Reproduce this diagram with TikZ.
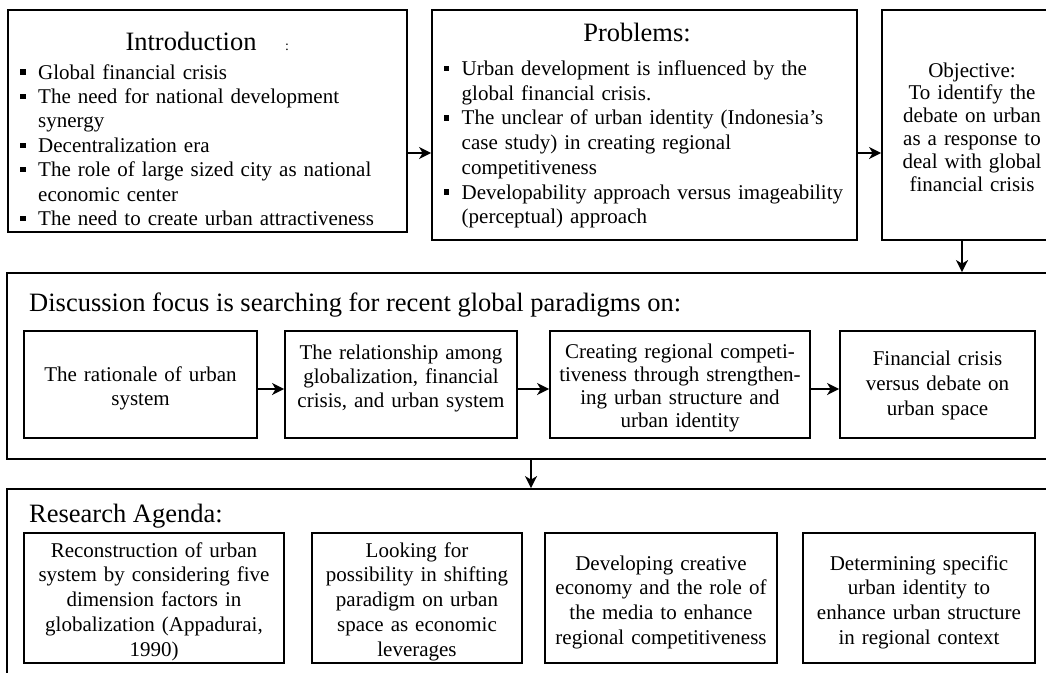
\documentclass[tikz,border=0pt]{standalone}
\usepackage{fontspec}
\setmainfont{Liberation Serif}
\usetikzlibrary{arrows.meta,fit}

% square list bullet followed by the item text
\newcommand{\sqbul}{\makebox[18pt][l]{\raisebox{4.2pt}{\rule{5.5pt}{5.5pt}}}}
\newcommand{\cont}{\hspace*{18pt}}

\begin{document}
\begin{tikzpicture}[x=1pt,y=-1pt,
  frame/.style={draw, line width=1.8pt, inner sep=0pt},
  flow/.style={line width=2.6pt, -{Stealth[length=12pt,width=12pt,inset=3.5pt]}},
  heading/.style={anchor=base west, inner sep=0pt, font=\fontsize{26.5}{30}\selectfont},
  listtext/.style={anchor=base west, inner sep=0pt, text width=420pt, align=left},
  celltext/.style={anchor=base, inner sep=0pt, text width=300pt, align=center},
]
\useasboundingbox (0,0) rectangle (1046,672);

% top row
\node[frame, fit={(8,10) (407,232)}] (intro) {};
\node[frame, fit={(432,10) (857,240)}] (probs) {};
\node[frame, fit={(882,10) (1072,240)}] (obj) {};

\node[anchor=base, inner sep=0pt, font=\fontsize{26.5}{30}\selectfont] (intro-title) at (191,50) {Introduction};
\node[anchor=base, inner sep=0pt, font=\fontsize{14}{16}\selectfont] (intro-colon) at (287,50) {:};
\node[listtext, font=\fontsize{21}{24.4}\selectfont] (intro-list) at (20,79) {%
\sqbul Global financial crisis\\
\sqbul The need for national development\\
\cont synergy\\
\sqbul Decentralization era\\
\sqbul The role of large sized city as national\\
\cont economic center\\
\sqbul The need to create urban attractiveness};

\node[anchor=base, inner sep=0pt, font=\fontsize{26.5}{30}\selectfont] (probs-title) at (637,41) {Problems:};
\node[listtext, font=\fontsize{21}{24.7}\selectfont] (probs-list) at (443.5,75.5) {%
\sqbul Urban development is influenced by the\\
\cont global financial crisis.\\
\sqbul The unclear of urban identity (Indonesia’s\\
\cont case study) in creating regional\\
\cont competitiveness\\
\sqbul Developability approach versus imageability\\
\cont (perceptual) approach};

\node[celltext, font=\fontsize{21}{22.8}\selectfont] (obj-text) at (972,77) {Objective:\\
To identify the\\ debate on urban\\ as a response to\\ deal with global\\ financial crisis};

\draw[flow] ([yshift=-32pt]intro.east) coordinate (ab) -- (ab -| probs.west);
\draw[flow] ([yshift=-28pt]probs.east) coordinate (bc) -- (bc -| obj.west);

% discussion focus
\node[frame, fit={(7,273) (1060,459)}] (focus) {};
\node[heading] (focus-title) at (29,311) {Discussion focus is searching for recent global paradigms on:};

\node[frame, fit={(24,331) (257,438)}] (f1) {};
\node[frame, fit={(285,331) (517,438)}] (f2) {};
\node[frame, fit={(550,331) (810,438)}] (f3) {};
\node[frame, fit={(840,331) (1035,438)}] (f4) {};

\node[celltext, font=\fontsize{21}{24}\selectfont] (f1-text) at (140.5,381) {The rationale of urban\\ system};
\node[celltext, font=\fontsize{21}{24}\selectfont] (f2-text) at (401,359) {The relationship among\\ globalization, financial\\ crisis, and urban system};
\node[celltext, font=\fontsize{21}{23.3}\selectfont] (f3-text) at (680,358) {Creating regional competi-\\ tiveness through strengthen-\\ ing urban structure and\\ urban identity};
\node[celltext, font=\fontsize{21}{25}\selectfont] (f4-text) at (937.5,365) {Financial crisis\\ versus debate on\\ urban space};

\draw[flow] ([yshift=-4.5pt]f1.east) coordinate (f12) -- (f12 -| f2.west);
\draw[flow] ([yshift=-4.5pt]f2.east) coordinate (f23) -- (f23 -| f3.west);
\draw[flow] ([yshift=-4.5pt]f3.east) coordinate (f34) -- (f34 -| f4.west);

\coordinate (cd) at (962,0);
\draw[flow] (cd |- obj.south) -- (cd |- focus.north);

% research agenda
\node[frame, fit={(7,489) (1060,690)}] (agenda) {};
\node[heading] (agenda-title) at (29,522) {Research Agenda:};

\node[frame, fit={(24,533) (284,663)}] (r1) {};
\node[frame, fit={(312,533) (522,663)}] (r2) {};
\node[frame, fit={(545,533) (777,663)}] (r3) {};
\node[frame, fit={(803,533) (1035,663)}] (r4) {};

\node[celltext, font=\fontsize{21}{24.8}\selectfont] (r1-text) at (154,557) {Reconstruction of urban\\ system by considering five\\ dimension factors in\\ globalization (Appadurai,\\ 1990)};
\node[celltext, font=\fontsize{21}{24.8}\selectfont] (r2-text) at (417,557) {Looking for\\ possibility in shifting\\ paradigm on urban\\ space as economic\\ leverages};
\node[celltext, font=\fontsize{21}{24.7}\selectfont] (r3-text) at (661,570) {Developing creative\\ economy and the role of\\ the media to enhance\\ regional competitiveness};
\node[celltext, font=\fontsize{21}{24.7}\selectfont] (r4-text) at (919,570) {Determining specific\\ urban identity to\\ enhance urban structure\\ in regional context};

\coordinate (de) at (531,0);
\draw[flow] (de |- focus.south) -- (de |- agenda.north);
\end{tikzpicture}
\end{document}
